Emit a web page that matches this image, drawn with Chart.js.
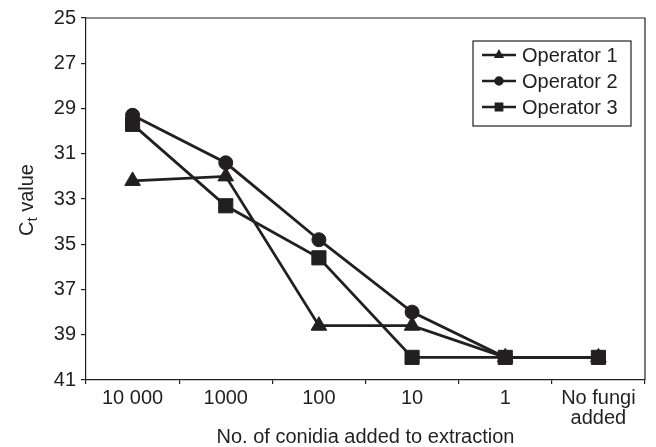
<!DOCTYPE html>
<html>
<head>
<meta charset="utf-8">
<script src="https://cdn.jsdelivr.net/npm/chart.js@4"></script>
<style>
  html, body { margin: 0; padding: 0; background: #fff; }
  #wrap { width: 656px; height: 447px; }
</style>
</head>
<body>
<div id="wrap"><canvas id="grafico" width="656" height="447"></canvas></div>
<script>
// categorias y valores
const categorias = ['10 000', '1000', '100', '10', '1', ['No fungi', 'added']];
const operador1 = [32.2, 32.0, 38.6, 38.6, 40, 40];
const operador2 = [29.3, 31.4, 34.8, 38.0, 40, 40];
const operador3 = [29.7, 33.3, 35.6, 40, 40, 40];
const etiquetasSerie = ['Operator 1', 'Operator 2', 'Operator 3'];
const yMin = 25, yMax = 41, yPaso = 2;

const negro = '#231f20';
const fuente = '"Liberation Sans", Arial, sans-serif';

// caja alrededor del area del grafico, etiqueta Y con subindice y leyenda
const extras = {
  id: 'extras',
  afterDraw(chart) {
    const ctx = chart.ctx;
    const a = chart.chartArea;
    ctx.save();
    ctx.strokeStyle = negro;
    ctx.lineWidth = 1.2;
    ctx.beginPath();
    ctx.moveTo(a.left, a.top);
    ctx.lineTo(a.right, a.top);
    ctx.lineTo(a.right, a.bottom);
    ctx.stroke();

    // C_t value
    ctx.fillStyle = negro;
    ctx.translate(27, (a.top + a.bottom) / 2 + 1);
    ctx.rotate(-Math.PI / 2);
    ctx.textBaseline = 'middle';
    const big = '20px ' + fuente, small = '15px ' + fuente;
    ctx.font = big;
    const wC = ctx.measureText('C').width;
    const wV = ctx.measureText(' value').width;
    ctx.font = small;
    const wT = ctx.measureText('t').width;
    let x = -(wC + wT + wV) / 2;
    ctx.font = big;
    ctx.textAlign = 'left';
    ctx.fillText('C', x, 0);
    ctx.font = small;
    ctx.fillText('t', x + wC, 6);
    ctx.font = big;
    ctx.fillText(' value', x + wC + wT, 0);
    ctx.restore();

    // leyenda
    ctx.save();
    const lx = 473, ly = 41, lw = 158, lh = 85;
    ctx.fillStyle = '#fff';
    ctx.fillRect(lx, ly, lw, lh);
    ctx.strokeStyle = negro;
    ctx.lineWidth = 1.2;
    ctx.strokeRect(lx, ly, lw, lh);
    ctx.font = '20px ' + fuente;
    ctx.textBaseline = 'middle';
    ctx.textAlign = 'left';
    chart.data.datasets.forEach((ds, i) => {
      const y = ly + 14 + i * 26;
      ctx.strokeStyle = negro;
      ctx.lineWidth = 2.4;
      ctx.beginPath();
      ctx.moveTo(lx + 9, y);
      ctx.lineTo(lx + 43, y);
      ctx.stroke();
      ctx.fillStyle = negro;
      Chart.helpers.drawPoint(ctx, {
        pointStyle: ds.pointStyle, radius: ds.pointStyle === 'rect' ? 4.5 : 3.5,
        rotation: 0, borderWidth: 1
      }, lx + 26, y);
      ctx.fillStyle = negro;
      ctx.fillText(ds.label, lx + 49, y + 1);
    });
    ctx.restore();
  }
};

const serie = (label, data, estilo, radio, orden) => ({
  label: label,
  data: data,
  borderColor: negro,
  backgroundColor: negro,
  pointBackgroundColor: negro,
  pointBorderColor: negro,
  borderWidth: 2.8,
  pointStyle: estilo,
  pointRadius: radio,
  pointBorderWidth: 1,
  tension: 0,
  fill: false,
  order: orden
});

new Chart(document.getElementById('grafico').getContext('2d'), {
  type: 'line',
  data: {
    labels: categorias,
    datasets: [
      serie(etiquetasSerie[0], operador1, 'triangle', 9, 2),
      serie(etiquetasSerie[1], operador2, 'circle', 7, 0),
      serie(etiquetasSerie[2], operador3, 'rect', 10, 1)
    ]
  },
  options: {
    responsive: false,
    animation: false,
    layout: { padding: { top: 18, right: 7, left: 0, bottom: 0 } },
    plugins: { legend: { display: false }, tooltip: { enabled: false } },
    scales: {
      x: {
        type: 'category',
        offset: true,
        afterFit(s) { s.height = 67; },
        grid: { offset: true, drawOnChartArea: false, drawTicks: true, tickLength: 4, color: negro, lineWidth: 1.2 },
        border: { display: true, color: negro, width: 1.2 },
        ticks: { color: negro, padding: 4, maxRotation: 0, font: { family: fuente, size: 20, lineHeight: 1.0 } },
        title: {
          display: true, text: 'No. of conidia added to extraction', color: negro,
          font: { family: fuente, size: 20, lineHeight: 1.0 }, padding: { top: 0, bottom: 0 }
        }
      },
      y: {
        reverse: true,
        min: yMin,
        max: yMax,
        afterFit(s) { s.width = 86; },
        grid: { drawOnChartArea: false, drawTicks: true, tickLength: 5, color: negro, lineWidth: 1.2 },
        border: { display: true, color: negro, width: 1.2 },
        ticks: { stepSize: yPaso, color: negro, padding: 5, font: { family: fuente, size: 20 } }
      }
    }
  },
  plugins: [extras]
});
</script>
</body>
</html>
